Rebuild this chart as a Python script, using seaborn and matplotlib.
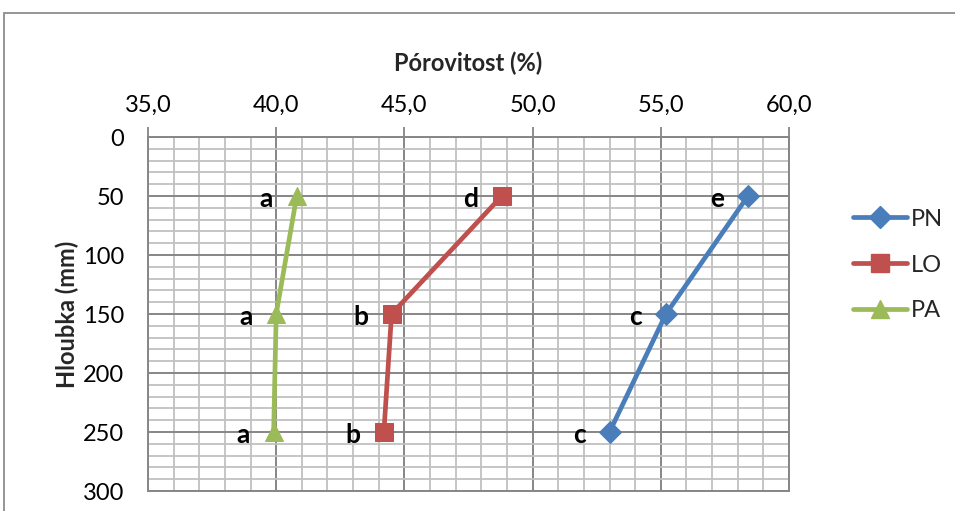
import matplotlib
matplotlib.use("Agg")
import matplotlib.pyplot as plt
from matplotlib.patches import Rectangle
from matplotlib.ticker import MultipleLocator, FuncFormatter
from matplotlib.lines import Line2D
import seaborn as sns
import pandas as pd

# Depth of sampling (mm) and porosity (%) per variant
hloubka = [50, 150, 250]
pn = [58.4, 55.2, 53.0]
lo = [48.8, 44.5, 44.2]
pa = [40.8, 40.0, 39.9]
serie = ["PN", "LO", "PA"]
pismena = {"PN": ["e", "c", "c"], "LO": ["d", "b", "b"], "PA": ["a", "a", "a"]}

barvy = {"PN": "#4A7EBB", "LO": "#C0504D", "PA": "#9BBB59"}
znacky = {"PN": "D", "LO": "s", "PA": "^"}
velikosti = {"PN": 11, "LO": 13, "PA": 13}

df = pd.DataFrame({
    "Hloubka": hloubka * 3,
    "Porovitost": pn + lo + pa,
    "Serie": ["PN"] * 3 + ["LO"] * 3 + ["PA"] * 3,
})

sns.set_theme(style="white")
plt.rcParams["font.family"] = ["Lato", "DejaVu Sans"]

W, H = 955, 511
fig = plt.figure(figsize=(W / 100, H / 100), dpi=100)
ax = fig.add_axes([148 / W, 1 - 491 / H, (789 - 148) / W, (491 - 137) / H])

# figure frame
fig.patches.append(Rectangle((4 / W, -0.1), 1.2, 1.1 - 13 / H, transform=fig.transFigure,
                             fill=False, edgecolor="#8c8c8c", linewidth=1.3, zorder=-5))

for s in serie:
    sub = df[df["Serie"] == s]
    sns.lineplot(data=sub, x="Porovitost", y="Hloubka", orient="y", sort=False, ax=ax,
                 color=barvy[s], linewidth=3.4, marker=znacky[s], markersize=velikosti[s],
                 markeredgecolor=barvy[s], legend=False, zorder=3)
    for xv, yv, t in zip(sub["Porovitost"], sub["Hloubka"], pismena[s]):
        ax.annotate(t, (xv, yv), xytext=(-17, -2), textcoords="offset points",
                    ha="right", va="center", fontsize=19, fontweight="bold", color="black")

ax.set_xlim(35, 60)
ax.set_ylim(300, 0)
ax.xaxis.set_major_locator(MultipleLocator(5))
ax.xaxis.set_minor_locator(MultipleLocator(1))
ax.yaxis.set_major_locator(MultipleLocator(50))
ax.yaxis.set_minor_locator(MultipleLocator(10))
ax.xaxis.set_major_formatter(FuncFormatter(lambda v, p: f"{v:.1f}".replace(".", ",")))
ax.yaxis.set_major_formatter(FuncFormatter(lambda v, p: f"{int(v)}"))

ax.xaxis.tick_top()
ax.xaxis.set_label_position("top")
ax.tick_params(axis="both", which="major", length=7, width=1.3, color="#868686",
               labelsize=17, labelcolor="black", direction="out")
ax.tick_params(axis="x", which="major", pad=8)
ax.tick_params(axis="y", which="major", pad=10)
ax.tick_params(axis="both", which="minor", length=0)

ax.grid(True, which="minor", color="#c0c0c0", linewidth=1.3, zorder=0)
ax.grid(True, which="major", color="#868686", linewidth=1.4, zorder=1)
ax.set_axisbelow(True)
for sp in ax.spines.values():
    sp.set_color("#868686")
    sp.set_linewidth(1.4)

ax.set_xlabel("Pórovitost (%)", fontsize=17, fontweight="bold", labelpad=17)
ax.set_ylabel("Hloubka (mm)", fontsize=17, fontweight="bold", labelpad=3)

handles = [Line2D([0], [0], color=barvy[s], linewidth=3.4, marker=znacky[s],
                  markersize=velikosti[s], markeredgecolor=barvy[s]) for s in serie]
fig.legend(handles, serie, loc="center left", bbox_to_anchor=(853 / W, 1 - 265 / H),
           frameon=False, fontsize=17, handlelength=2.3, handletextpad=0.15,
           labelspacing=1.05, borderpad=0, borderaxespad=0)

fig.savefig("out.png", dpi=100)
